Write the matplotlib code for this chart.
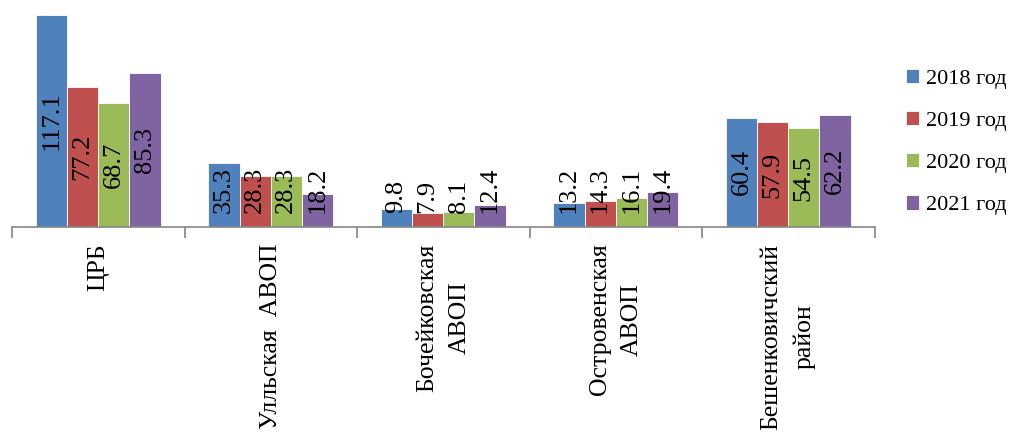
import matplotlib
matplotlib.use("Agg")
import matplotlib.pyplot as plt
import numpy as np

plt.rcParams['font.family'] = ['Liberation Serif', 'DejaVu Serif']

categories = ["ЦРБ", "Улльская  АВОП", "Бочейковская\nАВОП", "Островенская\nАВОП",
              "Бешенковичский\nрайон"]
years = ["2018 год", "2019 год", "2020 год", "2021 год"]
v2018 = [117.1, 35.3, 9.8, 13.2, 60.4]
v2019 = [77.2, 28.3, 7.9, 14.3, 57.9]
v2020 = [68.7, 28.3, 8.1, 16.1, 54.5]
v2021 = [85.3, 18.2, 12.4, 19.4, 62.2]
series = [v2018, v2019, v2020, v2021]
colors = ["#4F81BD", "#C0504D", "#9BBB59", "#8064A2"]

fig = plt.figure(figsize=(10.11, 4.34), dpi=100)
ax = fig.add_axes([12/1011, 1 - 227/434, (874.5 - 12)/1011, 217/434])

x = np.arange(len(categories))
w = 0.181
for i, vals in enumerate(series):
    pos = x + (i - 1.5) * w
    ax.bar(pos, vals, w, color=colors[i], edgecolor="white", linewidth=0.6, label=years[i])
    for p, v in zip(pos, vals):
        if v < 50:
            ax.text(p, 7.7, f"{v:.1f}", rotation=90, ha="center", va="bottom", fontsize=19)
        else:
            ax.text(p, v / 2, f"{v:.1f}", rotation=90, ha="center", va="center", fontsize=19)

ax.set_xlim(-0.5, len(categories) - 0.5)
ax.set_ylim(0, 120)
for s in ["top", "right", "left"]:
    ax.spines[s].set_visible(False)
ax.spines["bottom"].set_color("#868686")
ax.spines["bottom"].set_linewidth(1.2)
ax.set_yticks([])

ax.set_xticks(np.arange(len(categories) + 1) - 0.5)
ax.set_xticklabels([])
ax.tick_params(axis="x", which="major", length=8, width=1.2, color="#868686")
ax.set_xticks(x, minor=True)
ax.set_xticklabels(categories, minor=True, rotation=90, fontsize=18.5, linespacing=1.6)
ax.tick_params(axis="x", which="minor", length=0, pad=12)

fig.legend(loc="upper left", bbox_to_anchor=(895/1011, 1 - 58/434), frameon=False,
           fontsize=16, handlelength=0.6, handleheight=0.6, handletextpad=0.3,
           labelspacing=1.0, borderpad=0)

fig.savefig("out.png", dpi=100)
